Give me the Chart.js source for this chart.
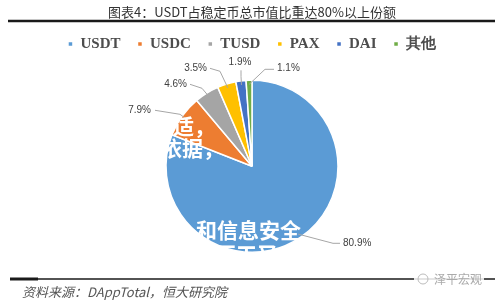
<!DOCTYPE html>
<html>
<head>
<meta charset="utf-8">
<script src="https://cdn.jsdelivr.net/npm/chart.js@4.4.1/dist/chart.umd.min.js"></script>
<style>
  html, body { margin: 0; padding: 0; background: #fff; }
  #wrap { width: 500px; height: 300px; position: relative; }
</style>
</head>
<body>
<div id="wrap"><canvas id="pie" width="500" height="300"></canvas></div>
<script>
// 稳定币市值占比
const coins = ["USDT", "USDC", "TUSD", "PAX", "DAI", "其他"];
const shares = [80.9, 7.9, 4.6, 3.5, 1.9, 1.1];
const shareLabels = ["80.9%", "7.9%", "4.6%", "3.5%", "1.9%", "1.1%"];
const colors = ["#5b9bd5", "#ed7d31", "#a5a5a5", "#ffc000", "#4472c4", "#70ad47"];

// leader line end / text spot, relative to pie centre
const callouts = [
  { elbow: [81, 77], end: [88, 77], text: [91, 77], align: "left" },
  { elbow: [-72, -52], end: [-97, -56], text: [-101, -56], align: "right" },
  { elbow: [-50, -78], end: [-62, -82], text: [-65, -82], align: "right" },
  { elbow: [-32, -95], end: [-42, -98], text: [-45, -98], align: "right" },
  { elbow: [-11, -90], end: [-11, -96], text: [-12, -104], align: "center" },
  { elbow: [13, -97], end: [22, -97], text: [25, -98], align: "left" }
];

const calloutPlugin = {
  id: "callouts",
  afterDatasetsDraw(chart) {
    const ctx = chart.ctx;
    const arcs = chart.getDatasetMeta(0).data;
    ctx.save();
    arcs.forEach((arc, i) => {
      const p = arc.getProps(["x", "y", "startAngle", "endAngle", "outerRadius"]);
      const mid = (p.startAngle + p.endAngle) / 2;
      const sx = p.x + Math.cos(mid) * (p.outerRadius - 4);
      const sy = p.y + Math.sin(mid) * (p.outerRadius - 4);
      const c = callouts[i];
      ctx.strokeStyle = "#a6a6a6";
      ctx.lineWidth = 1;
      ctx.beginPath();
      ctx.moveTo(sx, sy);
      ctx.lineTo(p.x + c.elbow[0], p.y + c.elbow[1]);
      ctx.lineTo(p.x + c.end[0], p.y + c.end[1]);
      ctx.stroke();
      ctx.fillStyle = "#404040";
      ctx.font = "10px 'Liberation Sans', sans-serif";
      ctx.textAlign = c.align;
      ctx.textBaseline = "middle";
      ctx.fillText(shareLabels[i], p.x + c.text[0], p.y + c.text[1]);
    });
    ctx.restore();
  },
  afterDraw(chart) {
    const ctx = chart.ctx;
    ctx.save();
    // 水印文字
    ctx.fillStyle = "#ffffff";
    ctx.font = "bold 21px 'Noto Sans CJK SC'";
    ctx.textBaseline = "middle";
    ctx.textAlign = "left";
    ctx.fillText("合适，", 152, 126);
    ctx.fillText("各依据，", 140, 148);
    ctx.fillText("和信息安全", 196, 230);
    ctx.fillText("不工又", 215, 254);

    // 上下分隔线
    ctx.strokeStyle = "#1a1a1a";
    ctx.lineWidth = 2.5;
    ctx.beginPath();
    ctx.moveTo(8, 21);
    ctx.lineTo(495, 21);
    ctx.stroke();
    ctx.lineWidth = 1.5;
    ctx.beginPath();
    ctx.moveTo(10, 279);
    ctx.lineTo(495, 279);
    ctx.stroke();
    ctx.lineWidth = 3;
    ctx.beginPath();
    ctx.moveTo(10, 279);
    ctx.lineTo(38, 279);
    ctx.stroke();

    ctx.fillStyle = "#555";
    ctx.font = "italic 13px 'Noto Sans CJK SC'";
    ctx.textAlign = "left";
    ctx.fillText("资料来源：DAppTotal，恒大研究院", 22, 292);

    ctx.fillStyle = "rgba(255,255,255,0.85)";
    ctx.fillRect(414, 272, 70, 14);
    ctx.strokeStyle = "#bbb";
    ctx.lineWidth = 1;
    ctx.beginPath();
    ctx.arc(423, 279, 5, 0, Math.PI * 2);
    ctx.stroke();
    ctx.fillStyle = "#aaa";
    ctx.font = "12px 'Noto Sans CJK SC'";
    ctx.fillText("泽平宏观", 434, 279);
    ctx.restore();
  }
};

new Chart(document.getElementById("pie"), {
  type: "pie",
  data: {
    labels: coins,
    datasets: [{
      data: shares,
      backgroundColor: colors,
      borderColor: "#ffffff",
      borderWidth: 1.5,
      radius: 86
    }]
  },
  options: {
    responsive: false,
    animation: false,
    layout: { padding: { left: 4, right: 0, top: 0, bottom: 29 } },
    plugins: {
      title: {
        display: true,
        text: "图表4：USDT占稳定币总市值比重达80%以上份额",
        color: "#333",
        font: { family: "'Noto Sans CJK SC'", size: 13, weight: "normal" },
        padding: { top: 4, bottom: 0 }
      },
      legend: {
        position: "top",
        labels: {
          boxWidth: 5,
          boxHeight: 5,
          padding: 17,
          color: "#4d4d4d",
          font: { family: "'Liberation Serif'", size: 15, weight: "bold" }
        }
      },
      tooltip: { enabled: false }
    }
  },
  plugins: [calloutPlugin]
});
</script>
</body>
</html>
